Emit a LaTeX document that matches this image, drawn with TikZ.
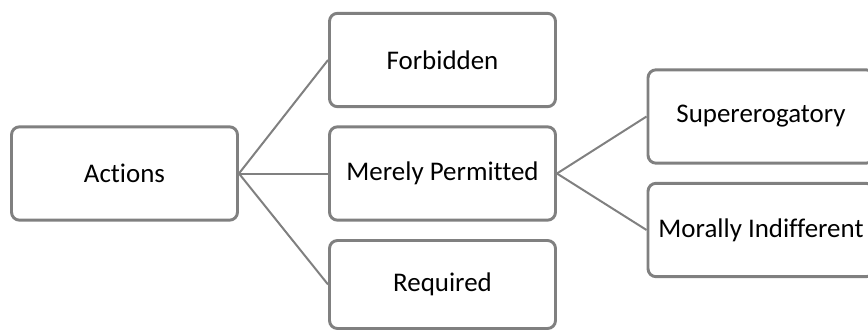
\documentclass[tikz,border=0pt]{standalone}
\usepackage{fontspec}
\setmainfont{Carlito}[Ligatures=NoCommon]
\definecolor{boxgray}{RGB}{128,128,128}

\begin{document}
\begin{tikzpicture}[x=0.75pt, y=-0.75pt, line join=round,
  box/.style={draw=boxgray, line width=2.2pt, rounded corners=6pt, fill=white,
    minimum width=169.5pt, minimum height=70pt, inner sep=0pt,
    font=\fontsize{20.2}{24}\selectfont},
  link/.style={draw=boxgray, line width=1.5pt}]
\clip (0,0) rectangle (868,332);
% 根节点
\node[box] (actions) at (124.5,173.5) {Actions};
% 第二层
\node[box] (forbidden) at (442.5,60) {Forbidden};
\node[box] (permitted) at (442.5,173.5) {Merely Permitted};
\node[box, minimum height=66pt] (required) at (442.5,284.5) {Required};
% 第三层（右侧被裁掉一部分）
\node[box] (super) at (761,116.5) {Supererogatory};
\node[box] (indiff) at (761,230) {Morally Indifferent};
% 连线
\foreach \t in {forbidden, permitted, required}
  \draw[link] (actions.east) -- (\t.west);
\foreach \t in {super, indiff}
  \draw[link] (permitted.east) -- (\t.west);
\end{tikzpicture}
\end{document}
